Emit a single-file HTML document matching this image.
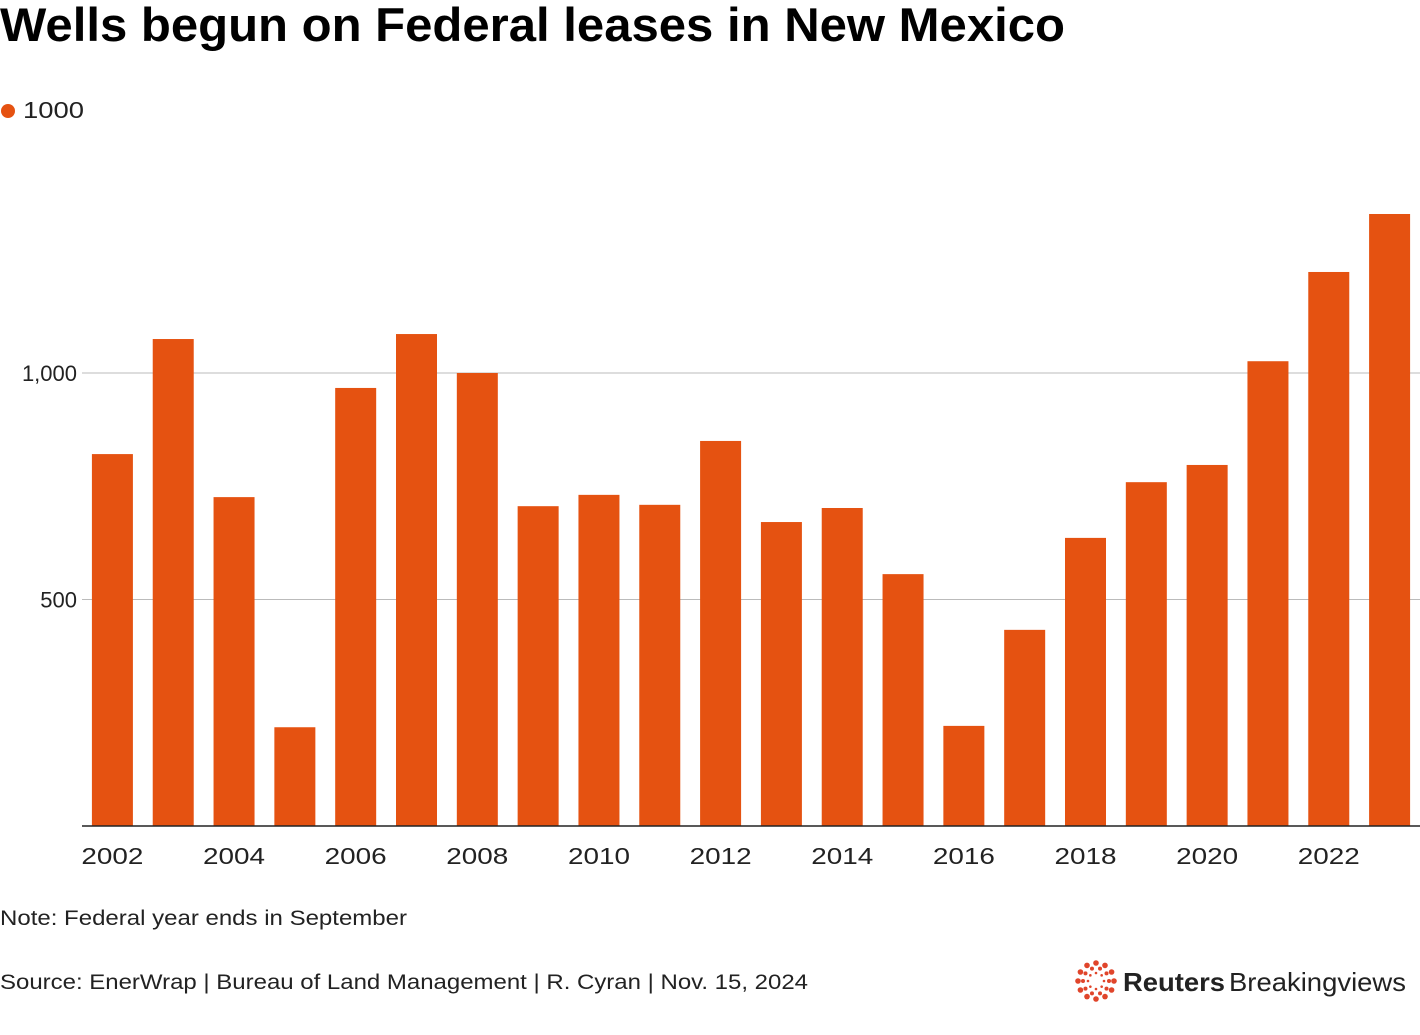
<!DOCTYPE html>
<html><head><meta charset="utf-8"><style>
body{margin:0;background:#fff;width:1420px;height:1030px;overflow:hidden;font-family:"Liberation Sans",Arial,sans-serif;}
</style></head><body>
<svg id="chart" width="1420" height="1030" xmlns="http://www.w3.org/2000/svg">
<text x="0" y="41" font-size="47" font-weight="bold" fill="#000" textLength="1065" lengthAdjust="spacingAndGlyphs">Wells begun on Federal leases in New Mexico</text>
<g>
<circle cx="8" cy="111" r="7" fill="#e55211"/>
<text x="23" y="118" font-size="23" fill="#222" textLength="61" lengthAdjust="spacingAndGlyphs">1000</text>
</g>
<g id="grid"></g>
<g id="bars"></g>
<g id="xaxis"></g>
<text x="0" y="925" font-size="21" fill="#222" textLength="407" lengthAdjust="spacingAndGlyphs">Note: Federal year ends in September</text>
<text x="0" y="989" font-size="21" fill="#222" textLength="808" lengthAdjust="spacingAndGlyphs">Source: EnerWrap | Bureau of Land Management | R. Cyran | Nov. 15, 2024</text>
<g id="logo">
<text x="1123" y="991" font-size="26" font-weight="bold" fill="#222" textLength="102" lengthAdjust="spacingAndGlyphs">Reuters</text>
<text x="1229" y="991" font-size="26" fill="#222" textLength="177" lengthAdjust="spacingAndGlyphs">Breakingviews</text>
</g>
</svg>
<script>
const years = [2002,2003,2004,2005,2006,2007,2008,2009,2010,2011,2012,2013,2014,2015,2016,2017,2018,2019,2020,2021,2022,2023];
const values = [821,1075,726,218,967,1086,1000,706,731,709,850,671,702,556,221,433,636,759,797,1026,1223,1351];
const yTicks = [500,1000];
const yTickLabels = ["500","1,000"];
const xTickLabels = ["2002","2004","2006","2008","2010","2012","2014","2016","2018","2020","2022"];
const NS="http://www.w3.org/2000/svg";
const x0=82,x1=1420,y0=826,pxPer=453/1000;
const band=(x1-x0)/years.length, bw=41;
function yScale(v){return y0-v*pxPer;}
function xScale(i){return x0+band*i+band/2;}
const grid=document.getElementById('grid');
yTicks.forEach((t,i)=>{
 const l=document.createElementNS(NS,'line');
 l.setAttribute('x1',x0);l.setAttribute('x2',x1);l.setAttribute('y1',yScale(t));l.setAttribute('y2',yScale(t));
 l.setAttribute('stroke','#bbb');l.setAttribute('stroke-width','1');
 
 
 grid.appendChild(l);
 const tx=document.createElementNS(NS,'text');
 tx.setAttribute('x',x0-5);tx.setAttribute('y',yScale(t)+8);tx.setAttribute('text-anchor','end');
 tx.setAttribute('font-size','22');tx.setAttribute('fill','#222');tx.textContent=yTickLabels[i];
 
 
 grid.appendChild(tx);
});
const bars=document.getElementById('bars');
values.forEach((v,i)=>{
 const r=document.createElementNS(NS,'rect');
 r.setAttribute('x',xScale(i)-bw/2);r.setAttribute('width',bw);
 r.setAttribute('y',yScale(v));r.setAttribute('height',y0-yScale(v));
 r.setAttribute('fill','#e55211');
 
 
 bars.appendChild(r);
});
const xa=document.getElementById('xaxis');
const al=document.createElementNS(NS,'line');
al.setAttribute('x1',x0);al.setAttribute('x2',x1);al.setAttribute('y1',y0);al.setAttribute('y2',y0);
al.setAttribute('stroke','#222');al.setAttribute('stroke-width','1.5');


xa.appendChild(al);
xTickLabels.forEach(lbl=>{
 const i=years.indexOf(+lbl);
 const t=document.createElementNS(NS,'text');
 t.setAttribute('x',xScale(i)-31);t.setAttribute('y',864);
 t.setAttribute('font-size','23');t.setAttribute('fill','#222');t.textContent=lbl;
 t.setAttribute('textLength','62');t.setAttribute('lengthAdjust','spacingAndGlyphs');
 
 
 xa.appendChild(t);
});
const logo=document.getElementById('logo');
const cx=1096,cy=981;
[[18,12,2.8],[13,10,2],[8,8,1.3]].forEach(([rad,n,s])=>{
 for(let k=0;k<n;k++){
  const a=k/n*2*Math.PI;
  const c=document.createElementNS(NS,'circle');
  c.setAttribute('cx',cx+rad*Math.cos(a));c.setAttribute('cy',cy+rad*Math.sin(a));
  c.setAttribute('r',s);c.setAttribute('fill','#e0452b');
  
  
  logo.appendChild(c);
 }
});
</script>
</body></html>
